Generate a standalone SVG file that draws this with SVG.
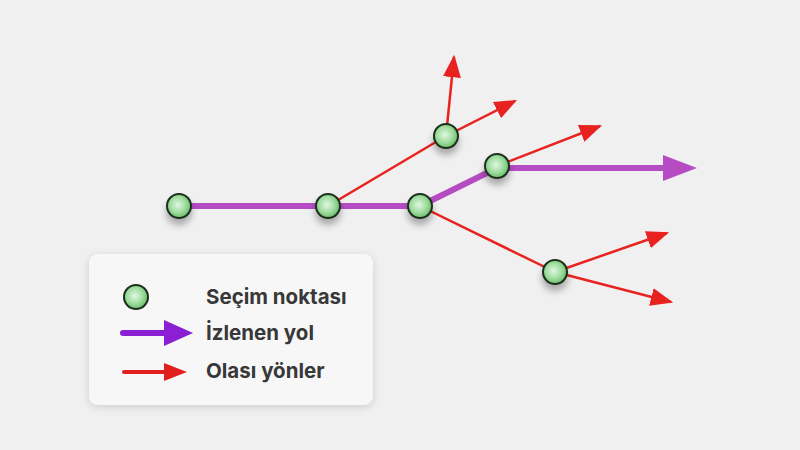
<svg xmlns="http://www.w3.org/2000/svg" width="800" height="450" viewBox="0 0 800 450">
<defs>
<radialGradient id="g" cx="0.45" cy="0.45" r="0.6">
<stop offset="0" stop-color="#e2f7e2"/>
<stop offset="0.55" stop-color="#9fdc9f"/>
<stop offset="1" stop-color="#5fb85f"/>
</radialGradient>
<filter id="sh" x="-50%" y="-50%" width="200%" height="220%">
<feGaussianBlur in="SourceAlpha" stdDeviation="3.5"/>
<feOffset dx="0" dy="6"/>
<feComponentTransfer><feFuncA type="linear" slope="0.3"/></feComponentTransfer>
<feMerge><feMergeNode/><feMergeNode in="SourceGraphic"/></feMerge>
</filter>
<filter id="bsh" x="-10%" y="-10%" width="120%" height="130%">
<feGaussianBlur in="SourceAlpha" stdDeviation="4"/>
<feOffset dx="0" dy="2"/>
<feComponentTransfer><feFuncA type="linear" slope="0.15"/></feComponentTransfer>
<feMerge><feMergeNode/><feMergeNode in="SourceGraphic"/></feMerge>
</filter>
<marker id="ra" viewBox="0 0 10 8" refX="9" refY="4" markerWidth="9" markerHeight="7.2" markerUnits="strokeWidth" orient="auto">
<path d="M0,0 L10,4 L0,8 Z" fill="#e8231f"/>
</marker>
</defs>
<style>
.red{stroke:#e8231f;stroke-width:2.5;fill:none}
.pur{stroke:#b54cc4;stroke-width:6;fill:none;stroke-linejoin:round}
.node{fill:url(#g);stroke:#1c2e1c;stroke-width:2;filter:url(#sh)}
.lt{font-family:Inter,"Open Sans",sans-serif;font-weight:700;font-size:20.5px;fill:#383838}
</style>
<rect width="800" height="450" fill="#f0f0f0"/>
<g id="connectors">
<polyline class="pur" points="179,206 328,206 420,206 497,168 665,168"/>
<polygon points="663,155 697,168 663,181" fill="#b54cc4"/>
<line class="red" x1="328" y1="206" x2="446" y2="136"/>
<line class="red" x1="420" y1="206" x2="555" y2="272"/>
<line class="red" x1="446" y1="136" x2="454" y2="57" marker-end="url(#ra)"/>
<line class="red" x1="446" y1="136" x2="515" y2="101" marker-end="url(#ra)"/>
<line class="red" x1="497" y1="166" x2="600" y2="126" marker-end="url(#ra)"/>
<line class="red" x1="555" y1="272" x2="667" y2="233" marker-end="url(#ra)"/>
<line class="red" x1="555" y1="272" x2="671" y2="302" marker-end="url(#ra)"/>
</g>
<g id="n1"><circle class="node" cx="179" cy="206" r="12"/></g>
<g id="n2"><circle class="node" cx="328" cy="206" r="12"/></g>
<g id="n3"><circle class="node" cx="420" cy="206" r="12"/></g>
<g id="n4"><circle class="node" cx="446" cy="136" r="12"/></g>
<g id="n5"><circle class="node" cx="497" cy="166" r="12"/></g>
<g id="n6"><circle class="node" cx="555" cy="272" r="12"/></g>
<g id="legend">
<rect x="89" y="254" width="284" height="151" rx="9" fill="#f7f7f7" filter="url(#bsh)"/>
<circle cx="136" cy="297" r="12" fill="url(#g)" stroke="#1c2e1c" stroke-width="2"/>
<text class="lt" x="206" y="304">Seçim noktası</text>
<line x1="123" y1="333" x2="166" y2="333" stroke="#8a1fd4" stroke-width="6" stroke-linecap="round"/>
<polygon points="164,320 193,333 164,346" fill="#8a1fd4"/>
<text class="lt" x="206" y="340">İzlenen yol</text>
<line x1="124" y1="372" x2="166" y2="372" stroke="#e01f1f" stroke-width="4" stroke-linecap="round"/>
<polygon points="164,363 187,372 164,381" fill="#e01f1f"/>
<text class="lt" x="206" y="378">Olası yönler</text>
</g>
</svg>
